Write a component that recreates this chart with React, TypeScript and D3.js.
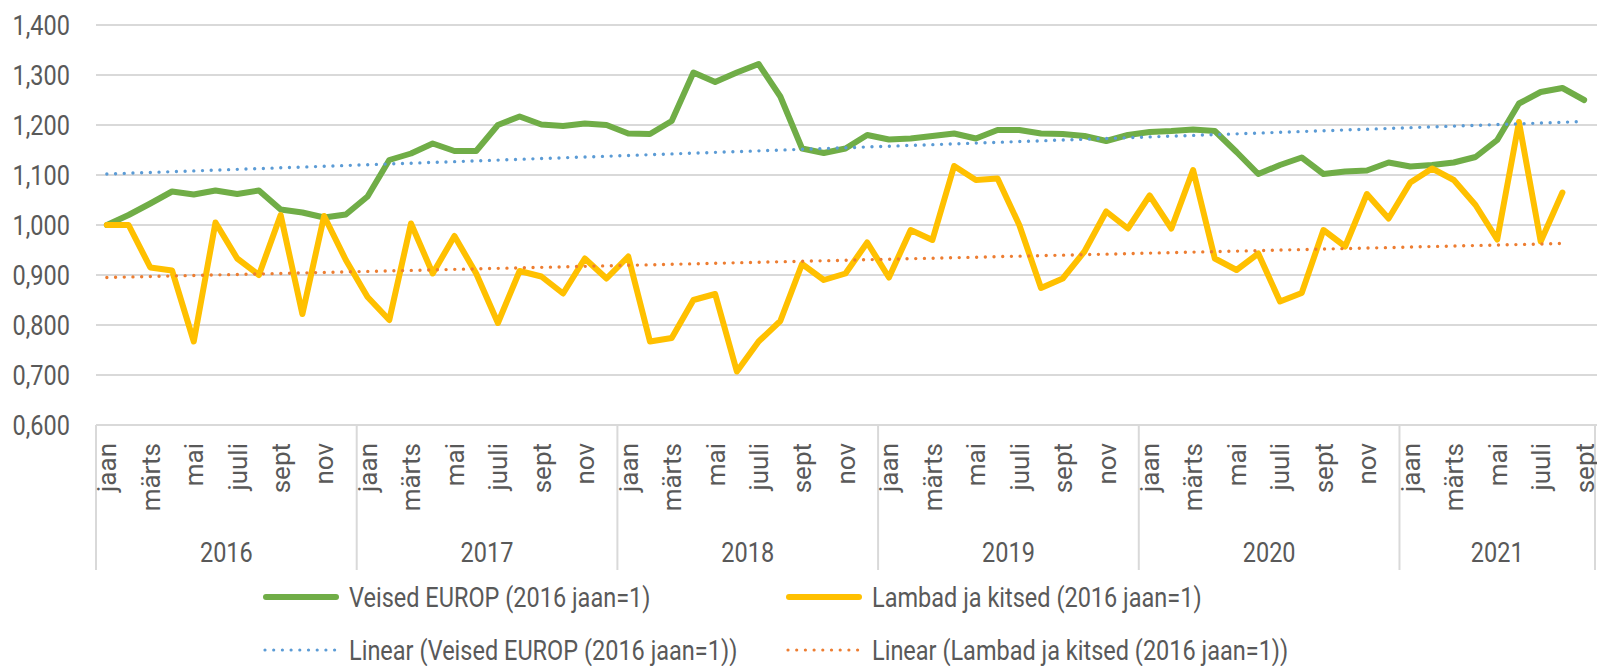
import React from "react";
import * as d3 from "d3";

const years = ["2016", "2017", "2018", "2019", "2020", "2021"];
const monthNames = ["jaan", "veebr", "märts", "apr", "mai", "juuni", "juuli", "aug", "sept", "okt", "nov", "dets"];
const monthsPerYear = [12, 12, 12, 12, 12, 9];
const yTicks = [0.6, 0.7, 0.8, 0.9, 1.0, 1.1, 1.2, 1.3, 1.4];

const veised = [
  1.000, 1.020, 1.043, 1.067, 1.061, 1.069, 1.062, 1.069, 1.031, 1.025, 1.015, 1.021,
  1.057, 1.130, 1.143, 1.163, 1.148, 1.148, 1.200, 1.217, 1.201, 1.198, 1.203, 1.200,
  1.183, 1.182, 1.208, 1.305, 1.286, 1.305, 1.322, 1.257, 1.153, 1.144, 1.153, 1.180,
  1.171, 1.173, 1.178, 1.183, 1.173, 1.190, 1.190, 1.183, 1.182, 1.178, 1.168, 1.180,
  1.186, 1.188, 1.191, 1.188, 1.146, 1.102, 1.120, 1.135, 1.102, 1.107, 1.109, 1.125,
  1.117, 1.120, 1.125, 1.136, 1.170, 1.243, 1.266, 1.274, 1.250,
];

const lambad = [
  1.000, 1.000, 0.915, 0.909, 0.767, 1.005, 0.933, 0.900, 1.020, 0.822, 1.018, 0.930,
  0.856, 0.810, 1.003, 0.903, 0.978, 0.903, 0.804, 0.908, 0.897, 0.863, 0.933, 0.893,
  0.937, 0.767, 0.774, 0.850, 0.862, 0.707, 0.767, 0.808, 0.922, 0.890, 0.903, 0.965,
  0.895, 0.990, 0.970, 1.118, 1.090, 1.093, 1.000, 0.874, 0.893, 0.947, 1.027, 0.993,
  1.059, 0.993, 1.110, 0.933, 0.910, 0.943, 0.847, 0.864, 0.990, 0.957, 1.062, 1.013,
  1.085, 1.113, 1.090, 1.040, 0.971, 1.206, 0.967, 1.065,
];

// Trend line end values (start, end)
const veisedTrend = [1.102, 1.207];
const lambadTrend = [0.895, 0.963];

const seriesNames = [
  "Veised EUROP (2016 jaan=1)",
  "Lambad ja kitsed (2016 jaan=1)",
  "Linear (Veised EUROP (2016 jaan=1))",
  "Linear (Lambad ja kitsed (2016 jaan=1))",
];

const W = 1597;
const H = 666;
const left = 96;
const right = 1595;
const top = 25;
const bottom = 425;

const GREEN = "#70AD47";
const YELLOW = "#FFC000";
const BLUE = "#5B9BD5";
const ORANGE = "#ED7D31";
const GRID = "#D9D9D9";
const TEXT = "#595959";
const FONT = "Roboto, 'Noto Sans', sans-serif";
const SX = 0.84;

export default function App() {
  const total = d3.sum(monthsPerYear);
  const idx = d3.range(total);
  const x = d3.scaleBand<number>().domain(idx).range([left, right]).padding(0);
  const cx = (i: number) => (x(i) as number) + x.bandwidth() / 2;
  const y = d3.scaleLinear().domain([0.6, 1.4]).range([bottom, top]);
  const line = d3.line<number>().x((_, i) => cx(i)).y((d) => y(d));

  const fmt = (v: number) => d3.format(".3f")(v).replace(".", ",");

  const yearStarts: number[] = [];
  let acc = 0;
  monthsPerYear.forEach((m) => { yearStarts.push(acc); acc += m; });

  const monthLabels: { i: number; t: string }[] = [];
  yearStarts.forEach((s, yi) => {
    for (let k = 0; k < monthsPerYear[yi]; k += 2) monthLabels.push({ i: s + k, t: monthNames[k] });
  });

  const legendRows = [
    { y: 597, items: [{ x: 263, color: GREEN, dotted: false, name: seriesNames[0] }, { x: 786, color: YELLOW, dotted: false, name: seriesNames[1] }] },
    { y: 650, items: [{ x: 263, color: BLUE, dotted: true, name: seriesNames[2] }, { x: 786, color: ORANGE, dotted: true, name: seriesNames[3] }] },
  ];

  return (
    <svg width={W} height={H} style={{ position: "absolute", left: 0, top: 0, background: "#fff" }} fontFamily={FONT}>
      <rect x={0} y={0} width={W} height={H} fill="#fff" />
      {yTicks.map((t) => (
        <g key={t}>
          <line x1={left} x2={W} y1={y(t)} y2={y(t)} stroke={GRID} strokeWidth={2} />
          <text transform={`translate(70,${y(t)}) scale(${SX},1)`} textAnchor="end" dy="0.35em" fontSize={28} fill={TEXT}>{fmt(t)}</text>
        </g>
      ))}
      {yearStarts.concat([total]).map((s, i) => {
        const xx = s === total ? right : (x(s) as number);
        return <line key={"sep" + i} x1={xx} x2={xx} y1={bottom} y2={570} stroke={GRID} strokeWidth={2} />;
      })}
      {monthLabels.map((m) => (
        <text key={"m" + m.i} transform={`translate(${cx(m.i)},443) rotate(-90)`} textAnchor="end" dy="0.36em" fontSize={26} fill={TEXT}>{m.t}</text>
      ))}
      {years.map((yr, i) => {
        const x0 = x(yearStarts[i]) as number;
        const x1 = i === years.length - 1 ? right : (x(yearStarts[i + 1]) as number);
        return (
          <text key={yr} transform={`translate(${(x0 + x1) / 2},562) scale(${SX},1)`} textAnchor="middle" fontSize={28} fill={TEXT}>{yr}</text>
        );
      })}
      <path d={line(veised) as string} fill="none" stroke={GREEN} strokeWidth={6} strokeLinejoin="round" strokeLinecap="round" />
      <path d={line(lambad) as string} fill="none" stroke={YELLOW} strokeWidth={6} strokeLinejoin="round" strokeLinecap="round" />
      <line x1={cx(0)} x2={cx(veised.length - 1)} y1={y(veisedTrend[0])} y2={y(veisedTrend[1])} stroke={BLUE} strokeWidth={3.4} strokeDasharray="0 8.7" strokeLinecap="round" />
      <line x1={cx(0)} x2={cx(lambad.length - 1)} y1={y(lambadTrend[0])} y2={y(lambadTrend[1])} stroke={ORANGE} strokeWidth={3.4} strokeDasharray="0 8.7" strokeLinecap="round" />
      {legendRows.map((row, ri) => (
        <g key={"lr" + ri}>
          {row.items.map((it) => (
            <g key={it.name}>
              {it.dotted ? (
                <line x1={it.x + 2} x2={it.x + 74} y1={row.y} y2={row.y} stroke={it.color} strokeWidth={3.2} strokeDasharray="0 8.7" strokeLinecap="round" />
              ) : (
                <line x1={it.x + 3} x2={it.x + 73} y1={row.y} y2={row.y} stroke={it.color} strokeWidth={6} strokeLinecap="round" />
              )}
              <text transform={`translate(${it.x + 86},${row.y}) scale(${SX},1)`} dy="0.36em" fontSize={28} fill={TEXT}>{it.name}</text>
            </g>
          ))}
        </g>
      ))}
    </svg>
  );
}
